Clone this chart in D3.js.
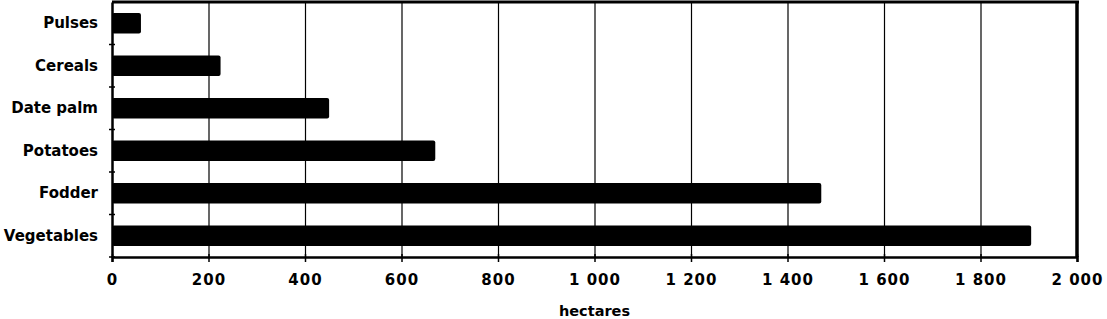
<!DOCTYPE html>
<html><head><meta charset="utf-8">
<script src="https://cdn.jsdelivr.net/npm/d3@7"></script>
<style>body{margin:0;background:#fff}svg{display:block}</style>
</head><body>
<svg id="c" width="1107" height="319"></svg>
<script>
const categories = ["Pulses","Cereals","Date palm","Potatoes","Fodder","Vegetables"];
const values = [60, 225, 450, 670, 1470, 1905];
const xTicks = [0,200,400,600,800,1000,1200,1400,1600,1800,2000];
const xTitle = "hectares";

const svg = d3.select("#c");
const L=112, R=1077, T=2, B=257;
const x = d3.scaleLinear().domain([0,2000]).range([L,R]);
const y = d3.scaleBand().domain(categories).range([T,B]).paddingInner(0.52).paddingOuter(0.26);
const fmt = v => d3.format(",")(v).replace(/,/g," ");
const font = "DejaVu Sans, sans-serif";

// gridlines
svg.append("g").selectAll("line").data(xTicks.slice(1,-1)).join("line")
  .attr("x1",d=>x(d)+0.5).attr("x2",d=>x(d)+0.5).attr("y1",T).attr("y2",B)
  .attr("stroke","#000").attr("stroke-width",1.2);

// bars
svg.append("g").selectAll("rect").data(categories).join("rect")
  .attr("x",L).attr("y",d=>y(d))
  .attr("width",(d,i)=>x(values[i])-L).attr("height",y.bandwidth())
  .attr("rx",2).attr("fill","#000");

// frame
svg.append("line").attr("x1",L).attr("x2",R+2).attr("y1",T).attr("y2",T).attr("stroke","#000").attr("stroke-width",3);
svg.append("line").attr("x1",R).attr("x2",R).attr("y1",T).attr("y2",B).attr("stroke","#000").attr("stroke-width",3.5);

// x axis
const xa = svg.append("g").attr("transform",`translate(0,${B})`)
  .call(d3.axisBottom(x).tickValues(xTicks).tickFormat(fmt).tickSize(5).tickPadding(12));
xa.select(".domain").attr("stroke-width",2.5);
xa.selectAll(".tick line").attr("stroke-width",1.5).attr("y1",-3);
xa.selectAll(".tick text").attr("font-family",font).attr("font-weight","bold").attr("font-size",15).attr("letter-spacing","1px").attr("fill","#000");

// y axis
const ya = svg.append("g").attr("transform",`translate(${L},0)`)
  .call(d3.axisLeft(y).tickSize(0).tickPadding(14));
ya.select(".domain").attr("stroke-width",2.5);
ya.selectAll(".tick text").attr("font-family",font).attr("font-weight","bold").attr("font-size",15).attr("fill","#000");
// category boundary ticks
const bounds = d3.range(1,categories.length+1).map(i=>T+i*y.step());
svg.append("g").selectAll("line").data(bounds).join("line")
  .attr("x1",L-3).attr("x2",L+3).attr("y1",d=>d).attr("y2",d=>d)
  .attr("stroke","#000").attr("stroke-width",1.5);

svg.append("text").attr("x",(L+R)/2).attr("y",316).attr("text-anchor","middle")
  .attr("font-family",font).attr("font-weight","bold").attr("font-size",14.5).text(xTitle);
</script>
</body></html>
